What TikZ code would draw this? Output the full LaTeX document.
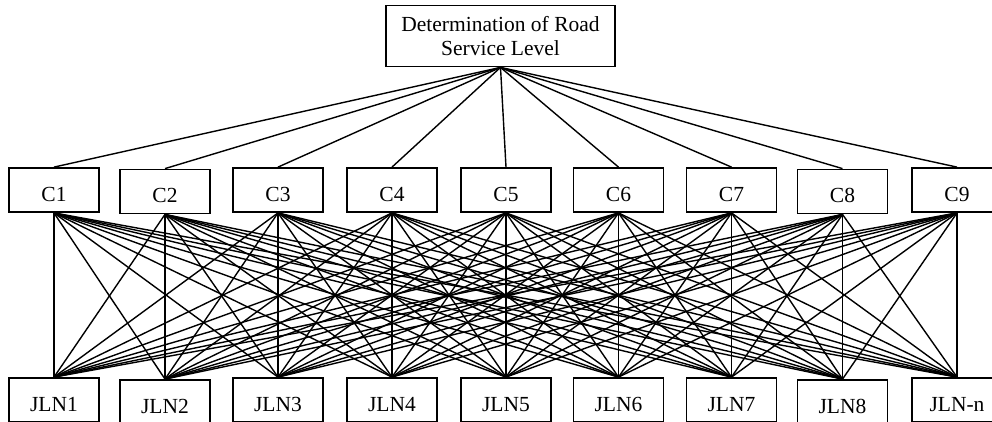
\documentclass[tikz,border=0pt]{standalone}
\usepackage{fontspec}
\setmainfont{Liberation Serif}
\begin{document}
\begin{tikzpicture}[x=1pt,y=-1pt,
  box/.style={draw,line width=1.8pt,minimum width=90pt,minimum height=44pt,inner sep=0pt,
    font=\fontsize{21.5}{24}\selectfont,text height=22pt,text depth=0pt},
  topbox/.style={draw,line width=1.8pt,minimum width=229pt,minimum height=61pt,inner sep=0pt,
    align=center,font=\fontsize{21.5}{24}\selectfont},
  link/.style={line width=1.4pt}]
\useasboundingbox (0,0) rectangle (992,421);
\node[topbox] (top) at (500.5,36) {Determination of Road\\Service Level};
\node[box] (c1) at (54,190) {C1};
\node[box] (c2) at (165,191.5) {C2};
\node[box] (c3) at (278,190) {C3};
\node[box] (c4) at (392,190) {C4};
\node[box] (c5) at (506,190) {C5};
\node[box] (c6) at (618.5,190) {C6};
\node[box] (c7) at (731.5,190) {C7};
\node[box] (c8) at (842.5,191.5) {C8};
\node[box] (c9) at (957,190) {C9};
\node[box] (j1) at (54,400) {JLN1};
\node[box] (j2) at (165,402) {JLN2};
\node[box] (j3) at (278,400) {JLN3};
\node[box] (j4) at (392,400) {JLN4};
\node[box] (j5) at (506,400) {JLN5};
\node[box] (j6) at (618.5,400) {JLN6};
\node[box] (j7) at (731.5,400) {JLN7};
\node[box] (j8) at (842.5,402) {JLN8};
\node[box] (j9) at (957,400) {JLN-n};
\foreach \i in {1,...,9} {
  \draw[link] (top.south) -- (c\i.north);
  \foreach \j in {1,...,9} {
    \draw[link] (c\i.south) -- (j\j.north);
  }
}
\end{tikzpicture}
\end{document}
